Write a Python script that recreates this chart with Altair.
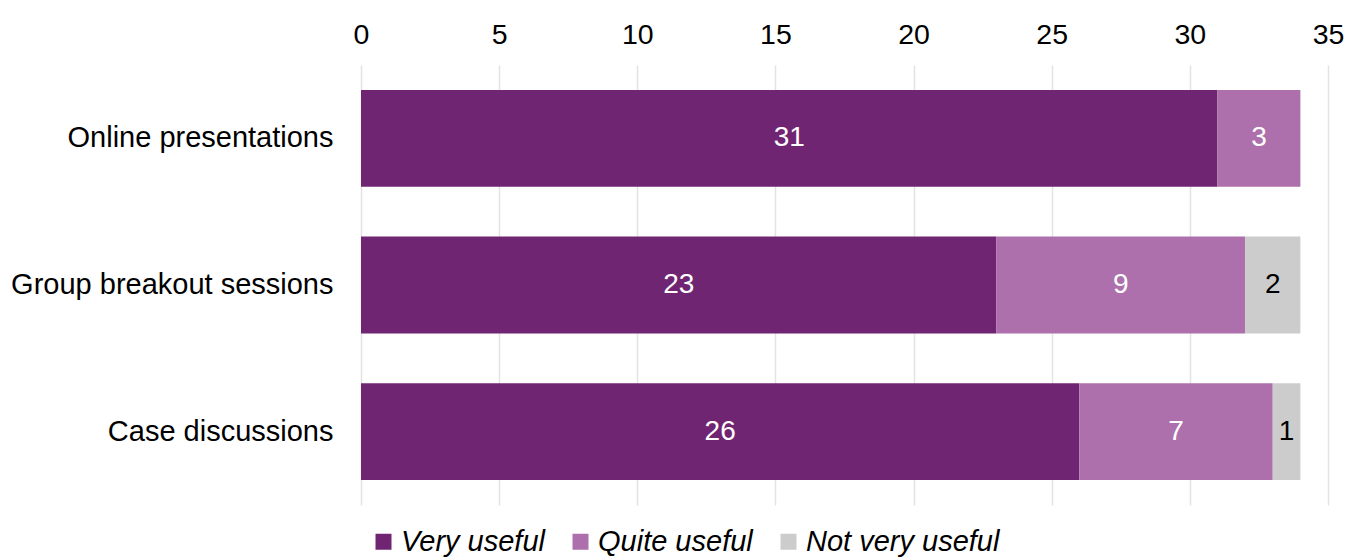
import altair as alt
import pandas as pd

categories = ["Online presentations", "Group breakout sessions", "Case discussions"]
very_useful = [31, 23, 26]
quite_useful = [3, 9, 7]
not_very_useful = [0, 2, 1]
levels = ["Very useful", "Quite useful", "Not very useful"]
colors = ["#702573", "#AD70AC", "#CCCCCC"]
text_colors = ["#FFFFFF", "#FFFFFF", "#000000"]

rows = []
for i, c in enumerate(categories):
    for j, (lvl, vals) in enumerate(zip(levels, [very_useful, quite_useful, not_very_useful])):
        rows.append({"cat": c, "level": lvl, "order": j, "value": vals[i], "tcolor": text_colors[j]})
df = pd.DataFrame(rows)

FONT = "Liberation Sans"

base = alt.Chart(df).transform_filter("datum.value > 0").transform_stack(
    stack="value", groupby=["cat"], as_=["v0", "v1"], sort=[alt.SortField("order", order="ascending")]
).transform_calculate(mid="(datum.v0 + datum.v1) / 2")

y_enc = alt.Y("cat:N", sort=categories, title=None,
              scale=alt.Scale(paddingInner=0.34, paddingOuter=0.17),
              axis=alt.Axis(labelFontSize=29, labelColor="#000000", labelFont=FONT,
                            labelPadding=28, ticks=False, domain=False, labelLimit=500))

bars = base.mark_bar().encode(
    x=alt.X("v0:Q", title=None,
            scale=alt.Scale(domain=[0, 35], nice=False),
            axis=alt.Axis(orient="top", values=[0, 5, 10, 15, 20, 25, 30, 35],
                          labelFontSize=28.5, labelColor="#000000", labelFont=FONT,
                          labelPadding=16, ticks=False, domain=False, labelFlush=False,
                          grid=True, gridColor="#E3E3E3", gridWidth=1.5)),
    x2="v1:Q",
    y=y_enc,
    color=alt.Color("level:N", sort=levels,
                    scale=alt.Scale(domain=levels, range=colors),
                    legend=alt.Legend(title=None, orient="none", direction="horizontal",
                                      legendX=8, legendY=462,
                                      symbolType="square", symbolSize=256, symbolStrokeWidth=0,
                                      symbolOpacity=1,
                                      labelFontSize=29, labelFontStyle="italic", labelFont=FONT,
                                      labelColor="#000000", labelOffset=3, columnPadding=21,
                                      labelLimit=500)),
)

texts = base.mark_text(fontSize=28, font=FONT, baseline="middle", align="center").encode(
    x=alt.X("mid:Q"),
    y=alt.Y("cat:N", sort=categories),
    text=alt.Text("value:Q"),
    color=alt.Color("tcolor:N", scale=None),
)

chart = alt.layer(bars, texts).properties(
    width=967, height=440,
    autosize=alt.AutoSizeParams(type="none"),
    padding={"left": 361, "top": 65, "right": 32, "bottom": 54},
).configure(font=FONT).configure_view(stroke=None)

chart.save("out.html", embed_options={"renderer": "svg", "actions": False})
